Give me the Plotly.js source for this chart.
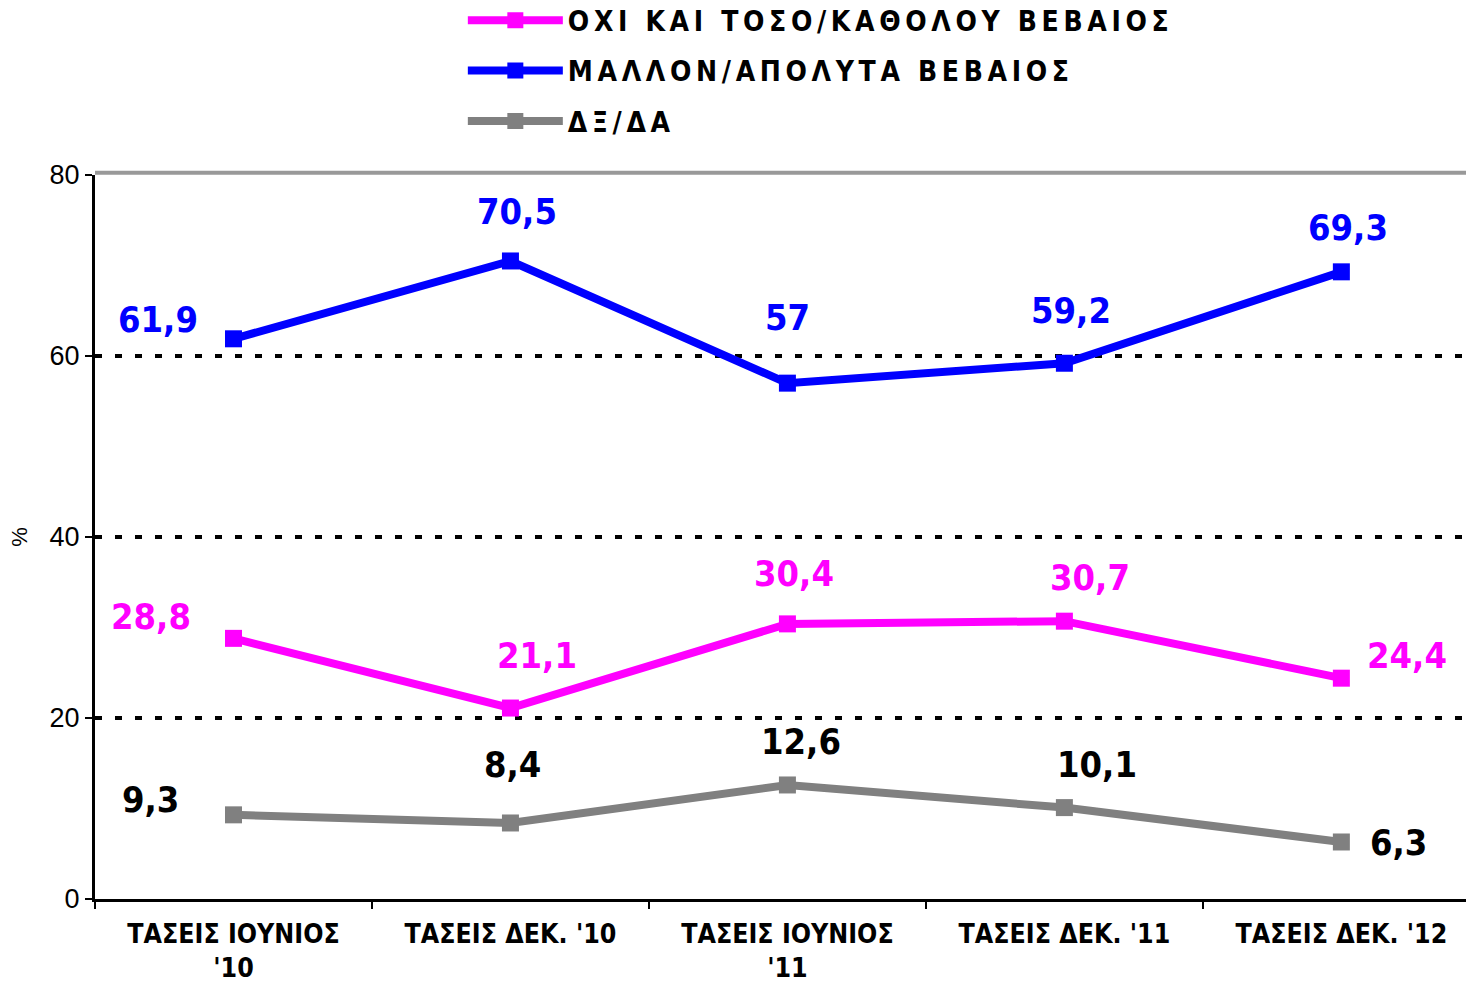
<!DOCTYPE html>
<html>
<head>
<meta charset="utf-8">
<script src="https://cdn.plot.ly/plotly-3.0.1.min.js"></script>
<style>
html,body{margin:0;padding:0;background:#fff;}
#chart{width:1466px;height:983px;}
.legendtext{letter-spacing:4.65px;}
</style>
</head>
<body>
<div id="chart"></div>
<script>
const categories = ["ΤΑΣΕΙΣ ΙΟΥΝΙΟΣ<br>'10", "ΤΑΣΕΙΣ ΔΕΚ. '10", "ΤΑΣΕΙΣ ΙΟΥΝΙΟΣ<br>'11", "ΤΑΣΕΙΣ ΔΕΚ. '11", "ΤΑΣΕΙΣ ΔΕΚ. '12"];
const seriesNames = ["ΟΧΙ ΚΑΙ ΤΟΣΟ/ΚΑΘΟΛΟΥ ΒΕΒΑΙΟΣ", "ΜΑΛΛΟΝ/ΑΠΟΛΥΤΑ ΒΕΒΑΙΟΣ", "ΔΞ/ΔΑ"];
const notSure = [28.8, 21.1, 30.4, 30.7, 24.4];
const sure = [61.9, 70.5, 57, 59.2, 69.3];
const dkna = [9.3, 8.4, 12.6, 10.1, 6.3];
const yTicks = [0, 20, 40, 60, 80];

// label pixel offsets relative to their markers (style only)
const lineColors = ["#FF00FF", "#0000FF", "#808080"];
const labelColors = ["#FF00FF", "#0000FF", "#000000"];
const labelShift = [
  [[-82, 22], [27, 53], [7, 50], [26, 44], [66, 23]],
  [[-75, 19], [7, 49], [0, 66], [7, 53], [7, 44]],
  [[-83, 15], [2, 58], [14, 43], [33, 43], [57, -1]]
];

const series = [notSure, sure, dkna];
const fontMain = "DejaVu Sans Condensed, DejaVu Sans, sans-serif";

const traces = series.map((vals, i) => ({
  type: "scatter",
  mode: "lines+markers",
  x: categories,
  y: vals,
  name: seriesNames[i],
  legendgroup: "g" + i,
  line: {color: lineColors[i], width: 8},
  marker: {symbol: "square", size: 17, color: lineColors[i]},
  hoverinfo: "skip"
}));

const annotations = [];
series.forEach((vals, i) => {
  vals.forEach((v, j) => {
    annotations.push({
      x: categories[j], y: v, xref: "x", yref: "y",
      text: String(v).replace(".", ","),
      showarrow: false,
      xshift: labelShift[i][j][0], yshift: labelShift[i][j][1],
      font: {family: fontMain, size: 36, color: labelColors[i], weight: "bold"}
    });
  });
});

const layout = {
  width: 1466, height: 983,
  margin: {l: 95, r: 0, t: 175, b: 84, autoexpand: false},
  paper_bgcolor: "#fff", plot_bgcolor: "#fff",
  showlegend: true,
  legend: {
    x: 0.2683, xanchor: "left", y: 1.248, yanchor: "top",
    font: {family: fontMain, size: 28, color: "#000", weight: "bold"},
    traceorder: "grouped", tracegroupgap: 11, itemwidth: 95,
    bgcolor: "rgba(0,0,0,0)"
  },
  xaxis: {
    type: "category",
    range: [-0.5, 4.45],
    showline: true, linecolor: "#000", linewidth: 3,
    ticks: "outside", tickson: "boundaries", ticklen: 7, tickwidth: 2, tickcolor: "#000",
    showgrid: false, zeroline: false,
    tickfont: {family: fontMain, size: 26.5, color: "#000", weight: "bold"},
    ticklabelstandoff: 9
  },
  yaxis: {
    range: [0, 80],
    tickvals: yTicks,
    showline: true, linecolor: "#000", linewidth: 3,
    ticks: "outside", ticklen: 7, tickwidth: 2, tickcolor: "#000",
    showgrid: true, gridcolor: "#000", gridwidth: 3.5, griddash: "7px,13px",
    zeroline: false,
    tickfont: {family: "Liberation Sans, Arial, sans-serif", size: 27, color: "#000"},
    title: {text: "%", font: {family: "Liberation Sans, Arial, sans-serif", size: 22, color: "#000"}, standoff: 16}
  },
  shapes: [{
    type: "line", xref: "paper", yref: "paper", x0: 0, x1: 1, y0: 1.003, y1: 1.003,
    line: {color: "#999", width: 4}, layer: "below"
  }],
  annotations: annotations
};

Plotly.newPlot("chart", traces, layout, {displayModeBar: false, staticPlot: true});
</script>
</body>
</html>
